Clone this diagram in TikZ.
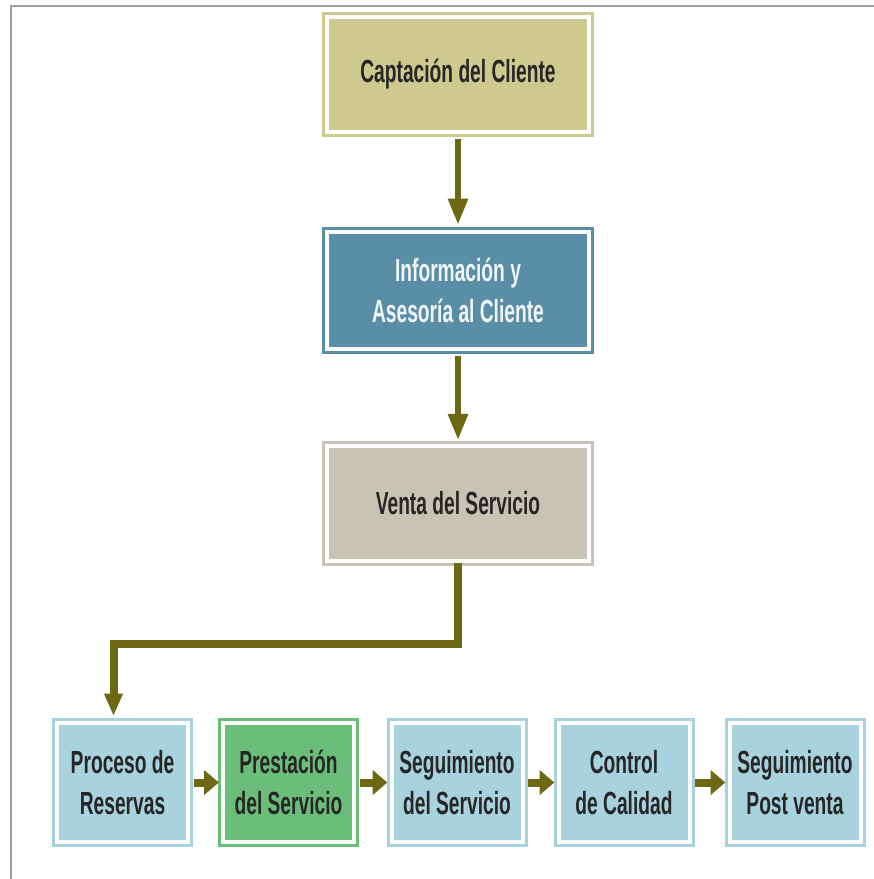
\documentclass[tikz,border=0pt]{standalone}
\usepackage{fontspec}
\usetikzlibrary{arrows.meta}
\newfontfamily\boxfont{Liberation Sans}[FakeStretch=0.6]

\definecolor{captaKhaki}{RGB}{206,201,142}
\definecolor{infoBlue}{RGB}{90,142,166}
\definecolor{ventaGray}{RGB}{200,195,180}
\definecolor{pasoBlue}{RGB}{168,210,222}
\definecolor{pasoGreen}{RGB}{106,190,122}
\definecolor{flechaOlive}{RGB}{110,104,20}
\definecolor{textoOscuro}{RGB}{38,38,38}
\definecolor{textoClaro}{RGB}{240,245,248}
\definecolor{marcoGray}{RGB}{160,160,160}

\tikzset{every picture/.style={line width=0.75pt}}
\tikzset{
  caja/.style={draw=#1, fill=#1, double=white, double distance=3pt, line width=2.25pt,
    inner sep=0pt, align=center, text=textoOscuro,
    font=\boxfont\bfseries\fontsize{24}{30.5}\selectfont},
  caja ancha/.style={caja=#1, minimum width=196.5pt, minimum height=86.25pt},
  caja paso/.style={caja=#1, minimum width=98.25pt, minimum height=89.25pt},
  flecha/.style={draw=flechaOlive, line width=5pt, -{Triangle[width=14pt,length=20pt]}},
  flecha corta/.style={draw=flechaOlive, line width=6pt, -{Triangle[width=18pt,length=11pt]},
    shorten <=3pt, shorten >=2pt},
  flecha codo/.style={draw=flechaOlive, line width=6pt, -{Triangle[width=13pt,length=17pt]},
    shorten >=4pt}
}

\begin{document}
\begin{tikzpicture}[x=0.75pt,y=0.75pt,yscale=-1,xscale=1]
\useasboundingbox (0,0) rectangle (874,879);

%Shape: Frame
\draw [marcoGray, line width=1.5pt] (11,879) -- (11,6) -- (874,6) ;

% Main column
\draw (458,74.5) node [caja ancha=captaKhaki] (capta) {Captación del Cliente};
\draw (458,290.5) node [caja ancha=infoBlue, minimum height=87.75pt, text=textoClaro] (info) {Información y\\Asesoría al Cliente};
\draw (458,503.5) node [caja ancha=ventaGray] (venta) {Venta del Servicio};

% Bottom row
\draw (122.5,782.5) node [caja paso=pasoBlue] (reservas) {Proceso de\\Reservas};
\draw (288.5,782.5) node [caja paso=pasoGreen] (prestacion) {Prestación\\del Servicio};
\draw (457,782.5) node [caja paso=pasoBlue] (seguimiento) {Seguimiento\\del Servicio};
\draw (624,782.5) node [caja paso=pasoBlue] (calidad) {Control\\de Calidad};
\draw (795,782.5) node [caja paso=pasoBlue] (postventa) {Seguimiento\\Post venta};

% Arrows
\draw [flecha, shorten <=4pt, shorten >=4pt] (capta) -- (info);
\draw [flecha, shorten <=4pt, shorten >=3pt] (info) -- (venta);
\draw [flecha codo] (venta.south) -- ++(0,81.5) -| ([xshift=-6.75pt]reservas.north);
\draw [flecha corta] (reservas) -- (prestacion);
\draw [flecha corta] (prestacion) -- (seguimiento);
\draw [flecha corta] (seguimiento) -- (calidad);
\draw [flecha corta] (calidad) -- (postventa);
\end{tikzpicture}
\end{document}
